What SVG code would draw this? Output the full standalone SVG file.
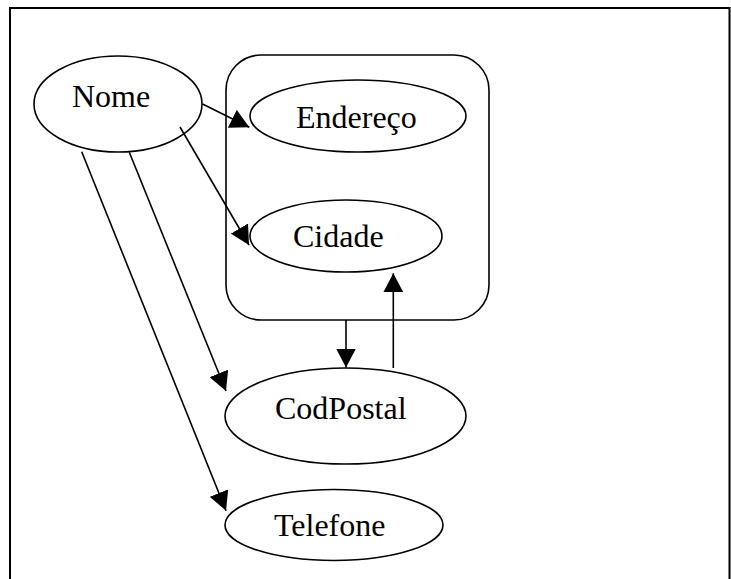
<svg xmlns="http://www.w3.org/2000/svg" width="731" height="579" viewBox="0 0 731 579">
<style>
.node{fill:#fff;stroke:#000;stroke-width:1.6}
.lbl{font-family:"Liberation Serif","Times New Roman",serif;font-size:32px;fill:#000}
.edge{stroke:#000;stroke-width:1.6;fill:none;marker-end:url(#ah)}
</style>
<defs>
<marker id="ah" viewBox="0 0 19 20" refX="19" refY="10" markerWidth="19" markerHeight="20" markerUnits="userSpaceOnUse" orient="auto">
<path d="M0,0 L19,10 L0,20 Z" fill="#000"/>
</marker>
</defs>
<rect x="0" y="0" width="731" height="579" fill="#fff"/>
<rect id="frame" x="10" y="8" width="719.5" height="620" fill="none" stroke="#000" stroke-width="2"/>
<g id="grupo">
<rect class="node" x="226" y="55" width="263" height="265" rx="35" ry="35"/>
</g>
<g id="nome">
<ellipse class="node" cx="118" cy="104" rx="84" ry="48"/>
<text class="lbl" x="72" y="107">Nome</text>
</g>
<g id="endereco">
<ellipse class="node" cx="358" cy="116" rx="108" ry="36"/>
<text class="lbl" x="296" y="128">Endereço</text>
</g>
<g id="cidade">
<ellipse class="node" cx="346" cy="236" rx="96" ry="36"/>
<text class="lbl" x="293" y="247">Cidade</text>
</g>
<g id="codpostal">
<ellipse class="node" cx="345.5" cy="416" rx="120.5" ry="48"/>
<text class="lbl" x="275" y="419">CodPostal</text>
</g>
<g id="telefone">
<ellipse class="node" cx="334" cy="525" rx="109" ry="35.5"/>
<text class="lbl" x="274" y="536">Telefone</text>
</g>
<g id="connectors">
<line class="edge" x1="202.5" y1="104" x2="249.3" y2="127.3"/>
<line class="edge" x1="180" y1="127" x2="249" y2="245"/>
<line class="edge" x1="129.3" y1="152.3" x2="226" y2="391"/>
<line class="edge" x1="81.7" y1="151.7" x2="226" y2="510.7"/>
<line class="edge" x1="346" y1="320" x2="346" y2="367.5"/>
<line class="edge" x1="393.3" y1="368" x2="393.3" y2="273.3"/>
</g>
</svg>
